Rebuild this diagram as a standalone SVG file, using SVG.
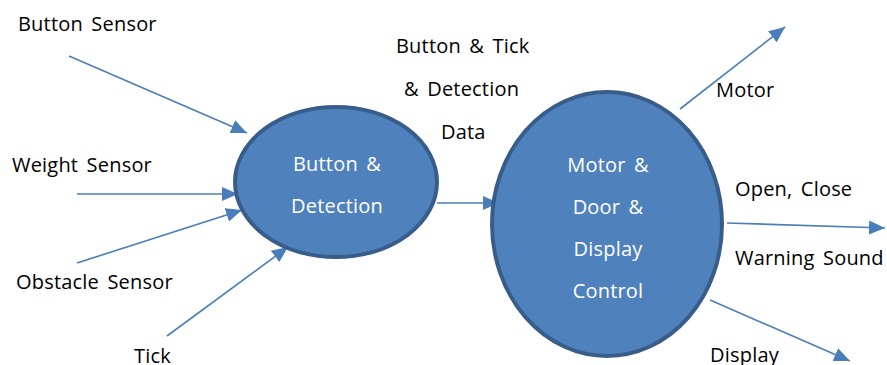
<svg xmlns="http://www.w3.org/2000/svg" width="887" height="365" viewBox="0 0 887 365">
  <style>
    .lbl { font-family: "Open Sans", "Noto Sans", "Liberation Sans", sans-serif; font-size: 20px; letter-spacing: 0.2px; word-spacing: 3px; fill: #000; }
    .in { font-family: "Open Sans", "Noto Sans", "Liberation Sans", sans-serif; font-size: 20px; letter-spacing: 0.2px; word-spacing: 3px; fill: #ffffff; text-anchor: middle; }
    .proc { fill: #4f81bd; stroke: #385d8a; stroke-width: 4; }
    .flow { stroke: #4a7ebb; stroke-width: 1.6; fill: none; marker-end: url(#arr); }
  </style>
  <defs>
    <marker id="arr" viewBox="0 0 16 14" refX="16" refY="7" markerWidth="16" markerHeight="14" markerUnits="userSpaceOnUse" orient="auto">
      <path d="M0,0 L16,7 L0,14 Z" fill="#4a7ebb"/>
    </marker>
  </defs>
  <rect width="887" height="365" fill="#ffffff"/>

  <g id="connectors">
    <line class="flow" x1="69" y1="56" x2="247" y2="133"/>
    <line class="flow" x1="77" y1="194" x2="238" y2="194"/>
    <line class="flow" x1="77" y1="263" x2="242" y2="210"/>
    <line class="flow" x1="167" y1="336" x2="288" y2="247"/>
    <line class="flow" x1="437" y1="203" x2="499" y2="203"/>
    <line class="flow" x1="680" y1="109" x2="785" y2="27"/>
    <line class="flow" x1="727" y1="223" x2="885" y2="228"/>
    <line class="flow" x1="710" y1="300" x2="850" y2="361"/>
  </g>

  <g id="button-detection">
    <ellipse class="proc" cx="336" cy="182" rx="101" ry="75"/>
    <text class="in" x="337" y="171">Button &amp;</text>
    <text class="in" x="337" y="213">Detection</text>
  </g>

  <g id="motor-door-display-control">
    <ellipse class="proc" cx="607" cy="224" rx="115" ry="132"/>
    <text class="in" x="608" y="172">Motor &amp;</text>
    <text class="in" x="608" y="214">Door &amp;</text>
    <text class="in" x="608" y="256">Display</text>
    <text class="in" x="608" y="298">Control</text>
  </g>

  <g id="labels">
    <text class="lbl" x="18" y="31">Button Sensor</text>
    <text class="lbl" x="12" y="172">Weight Sensor</text>
    <text class="lbl" x="16" y="289">Obstacle Sensor</text>
    <text class="lbl" x="134" y="363">Tick</text>
    <text class="lbl" x="396" y="53">Button &amp; Tick</text>
    <text class="lbl" x="404" y="96">&amp; Detection</text>
    <text class="lbl" x="441" y="139">Data</text>
    <text class="lbl" x="716" y="97">Motor</text>
    <text class="lbl" x="735" y="196">Open, Close</text>
    <text class="lbl" x="735" y="265">Warning Sound</text>
    <text class="lbl" x="710" y="362">Display</text>
  </g>
</svg>
